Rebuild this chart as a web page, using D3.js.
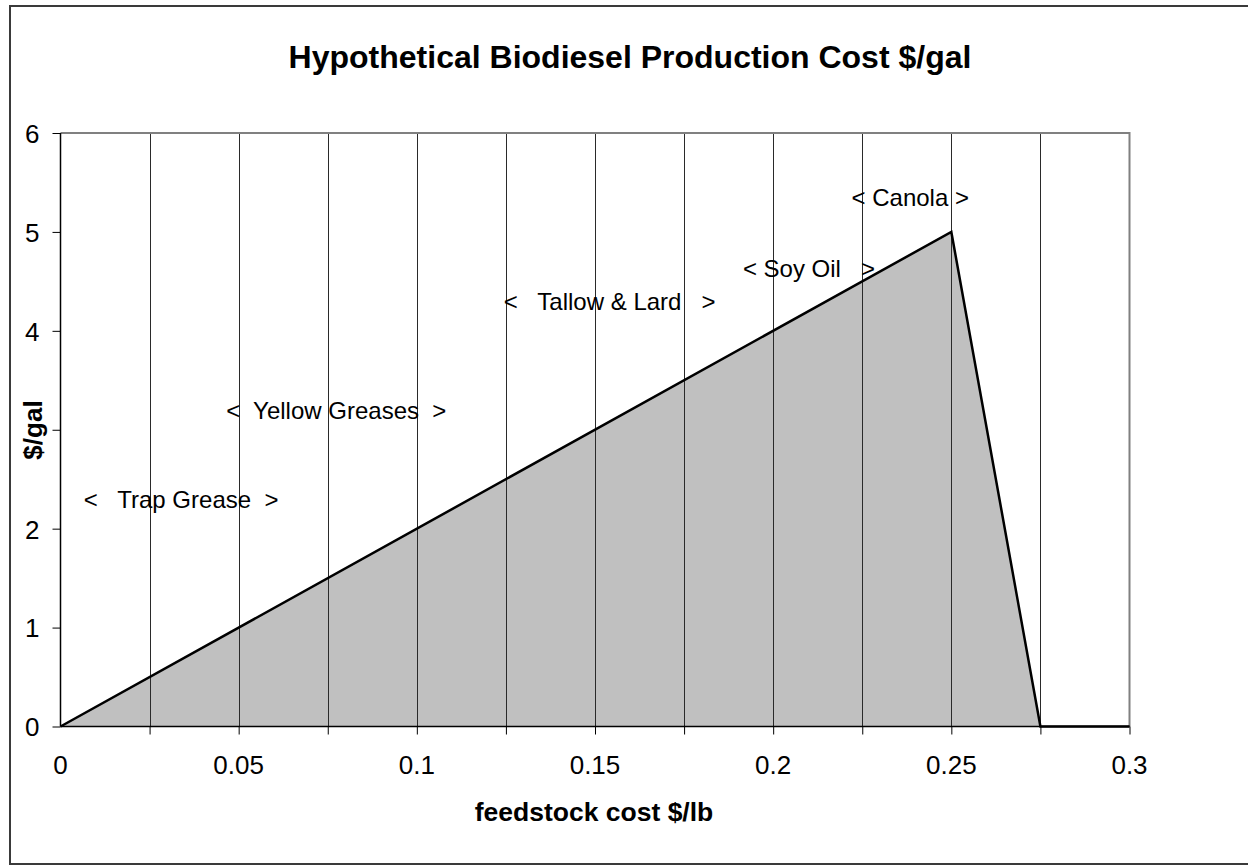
<!DOCTYPE html>
<html>
<head>
<meta charset="utf-8">
<script src="https://cdn.jsdelivr.net/npm/d3@7"></script>
<style>
  html, body { margin: 0; padding: 0; background: #fff; }
  svg { display: block; }
  text { font-family: Arial, "Liberation Sans", sans-serif; fill: #000; }
</style>
</head>
<body>
<svg id="chart" width="1248" height="865"></svg>
<script>
// ---- data ----
const feedstockCost = [0, 0.25, 0.275, 0.3];
const productionCost = [0, 5, 0, 0];
const xTickValues = [0, 0.05, 0.1, 0.15, 0.2, 0.25, 0.3];
const yTickValues = [0, 1, 2, 3, 4, 5, 6];
const gridValues = [0.025, 0.05, 0.075, 0.1, 0.125, 0.15, 0.175, 0.2, 0.225, 0.25, 0.275];
const annotationTexts = ["<   Trap Grease  >", "<  Yellow Greases  >", "<   Tallow & Lard   >", "< Soy Oil   >", "< Canola >"];
const annotationX = [0.0065, 0.0465, 0.1244, 0.1915, 0.222];
const annotationY = [2.3, 3.2, 4.3, 4.63, 5.35];
const titleText = "Hypothetical Biodiesel Production Cost $/gal";
const xTitle = "feedstock cost $/lb";
const yTitle = "$/gal";

const svg = d3.select("#chart");
const m = { left: 60.5, right: 1129.5, top: 133, bottom: 726.5 };

// outer border
svg.append("rect").attr("x", 10).attr("y", 6).attr("width", 1250).attr("height", 858)
  .attr("fill", "#fff").attr("stroke", "#3a3a3a").attr("stroke-width", 2);

const x = d3.scaleLinear().domain([0, 0.3]).range([m.left, m.right]);
const y = d3.scaleLinear().domain([0, 6]).range([m.bottom, m.top]);

const data = feedstockCost.map((v, i) => ({ x: v, y: productionCost[i] }));

// area
svg.append("path").datum(data)
  .attr("d", d3.area().x(d => x(d.x)).y0(y(0)).y1(d => y(d.y)))
  .attr("fill", "#c0c0c0");

// vertical gridlines
svg.append("g").selectAll("line").data(gridValues).join("line")
  .attr("x1", d => Math.round(x(d)) + 0.5).attr("x2", d => Math.round(x(d)) + 0.5)
  .attr("y1", m.top).attr("y2", m.bottom)
  .attr("stroke", "#2a2a2a").attr("stroke-width", 1);

// plot border top/right (gray)
svg.append("path")
  .attr("d", `M${m.left},${m.top}H${m.right}V${m.bottom}`)
  .attr("fill", "none").attr("stroke", "#808080").attr("stroke-width", 2);

// line
svg.append("path").datum(data)
  .attr("d", d3.line().x(d => x(d.x)).y(d => y(d.y)))
  .attr("fill", "none").attr("stroke", "#000").attr("stroke-width", 2.5)
  .attr("stroke-linejoin", "miter");

// axes
const xAxis = svg.append("g").attr("transform", `translate(0,${m.bottom})`)
  .call(d3.axisBottom(x).tickValues(gridValues.concat([0.3])).tickSize(8).tickFormat(""));
xAxis.select(".domain").attr("stroke", "#000").attr("stroke-width", 1.5)
  .attr("d", `M${m.left},0H${m.right}`);
xAxis.selectAll(".tick line").attr("stroke", "#000");

svg.append("g").selectAll("text").data(xTickValues).join("text")
  .attr("x", d => x(d)).attr("y", 774)
  .attr("text-anchor", "middle").style("font-size", "26px")
  .text(d => d3.format("")(d));

const yAxis = svg.append("g").attr("transform", `translate(${m.left},0)`)
  .call(d3.axisLeft(y).tickValues(yTickValues).tickSize(8).tickPadding(12).tickFormat(d3.format("d")));
yAxis.select(".domain").attr("stroke", "#000").attr("stroke-width", 1.5)
  .attr("d", `M0,${m.top}V${m.bottom}`);
yAxis.selectAll(".tick line").attr("stroke", "#000");
yAxis.selectAll(".tick text").style("font-size", "26px")
  .style("font-family", "Arial, 'Liberation Sans', sans-serif").attr("fill", "#000")
  .attr("x", -21).attr("dy", "0.36em");

// annotations
svg.append("g").selectAll("text").data(annotationTexts).join("text")
  .attr("x", (d, i) => x(annotationX[i]))
  .attr("y", (d, i) => y(annotationY[i]))
  .attr("dy", "0.36em")
  .style("font-size", "24px")
  .style("white-space", "pre")
  .attr("xml:space", "preserve")
  .text(d => d);

// title
svg.append("text").attr("x", 630).attr("y", 68).attr("text-anchor", "middle")
  .style("font-size", "32px").style("font-weight", "bold").text(titleText);

// x title
svg.append("text").attr("x", 594).attr("y", 821).attr("text-anchor", "middle")
  .style("font-size", "26.5px").style("font-weight", "bold").text(xTitle);

// y title with white backing
svg.append("rect").attr("x", 18).attr("y", 398).attr("width", 28).attr("height", 64).attr("fill", "#fff");
svg.append("text").attr("transform", "translate(42,430) rotate(-90)")
  .attr("text-anchor", "middle")
  .style("font-size", "26px").style("font-weight", "bold").text(yTitle);
</script>
</body>
</html>
